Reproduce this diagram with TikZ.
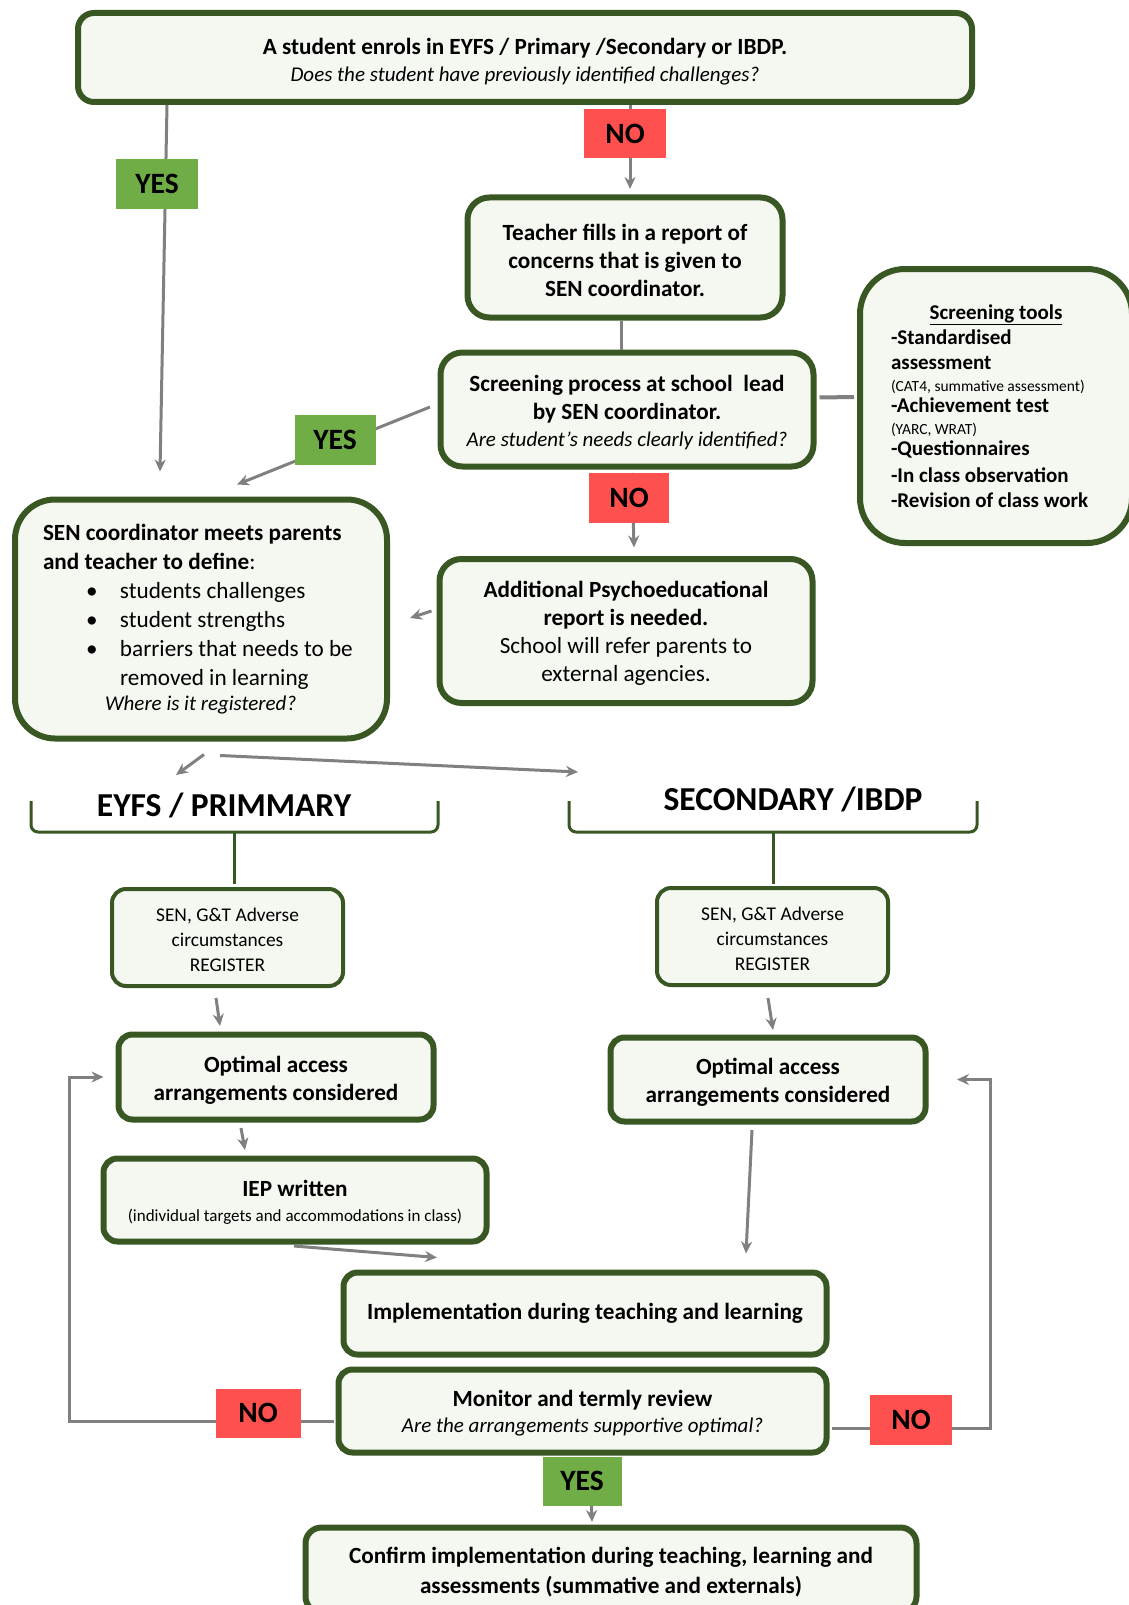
\documentclass[tikz,border=0pt]{standalone}
\usepackage{fontspec}
\setmainfont{Carlito}
\usetikzlibrary{calc,arrows.meta}
\definecolor{boxline}{RGB}{56,87,35}
\definecolor{boxfill}{RGB}{244,248,241}
\definecolor{yesgreen}{RGB}{112,173,71}
\definecolor{nored}{RGB}{255,80,80}
\definecolor{linkgray}{RGB}{128,128,128}
\newcommand{\qitem}[1]{{\fontsize{21}{28}\selectfont\itshape #1}}
\newcommand{\lowstrut}[1]{\rule{0pt}{#1}}
\begin{document}
\begin{tikzpicture}[x=1pt,y=-1pt,
  stepbox/.style={draw=boxline,fill=boxfill,line width=6,rounded corners=16,align=center,inner sep=0,font=\fontsize{23.2}{28}\selectfont},
  regbox/.style={stepbox,line width=4,rounded corners=14,font=\fontsize{19.4}{25}\selectfont},
  yeslab/.style={fill=yesgreen,minimum width=81,minimum height=50,inner sep=0,font=\fontsize{29.5}{30}\selectfont\bfseries},
  nolab/.style={yeslab,fill=nored},
  conn/.style={draw=linkgray,line width=3,-{Stealth[length=12,width=11]}},
  link/.style={draw=linkgray,line width=3},
  brace/.style={draw=boxline,line width=3,rounded corners=7}]
  \useasboundingbox (0,0) rectangle (1128,1605);

  % boxes
  \node[stepbox,minimum width=894,minimum height=89] (top) at (525,57.5)
    {\lowstrut{25.5pt}\textbf{A student enrols in EYFS / Primary /Secondary or IBDP.}\\[-1pt]
     \qitem{Does the student have previously identified challenges?}};
  \node[stepbox,rounded corners=22,minimum width=315,minimum height=120] (teacher) at (625,257.5)
    {\lowstrut{22pt}\textbf{Teacher fills in a report of}\\ \textbf{concerns that is given to}\\ \textbf{SEN coordinator.}};
  \node[stepbox,rounded corners=22,minimum width=373,minimum height=114] (screen) at (627,409.5)
    {\lowstrut{22.5pt}\textbf{Screening process at school\ \ lead}\\ \textbf{by SEN coordinator.}\\[-1pt]
     \qitem{Are student’s needs clearly identified?}};
  \node[stepbox,rounded corners=45,minimum width=272,minimum height=274,text width=210,align=left,
        font=\fontsize{21}{25}\selectfont\bfseries] (tools) at (996,406)
    {\spaceskip=0pt\relax
     {\centering\underline{Screening tools}\par}
     -Standardised\\
     assessment\\[-3pt]
     {\fontsize{15.5}{16}\selectfont\mdseries (CAT4, summative assessment)}\\[-4pt]
     -Achievement test\\[-3pt]
     {\fontsize{15.5}{16}\selectfont\mdseries (YARC, WRAT)}\\[-4pt]
     -Questionnaires\\[2pt]
     -In class observation\\
     -Revision of class work};
  \node[stepbox,rounded corners=40,minimum width=372,minimum height=239,text width=316,align=left,
        font=\fontsize{23.2}{29}\selectfont] (sen) at (201,619)
    {\spaceskip=0pt\relax
     \textbf{SEN coordinator meets parents}\\
     \textbf{and teacher to define}:\\
     \hspace*{43pt}\makebox[34pt][l]{\textbullet}students challenges\\
     \hspace*{43pt}\makebox[34pt][l]{\textbullet}student strengths\\
     \hspace*{43pt}\makebox[34pt][l]{\textbullet}barriers that needs to be\\
     \hspace*{77pt}removed in learning\\[-4pt]
     \hspace*{62pt}\qitem{Where is it registered?}};
  \node[stepbox,rounded corners=22,minimum width=373,minimum height=144] (addl) at (626,631)
    {\lowstrut{20pt}\textbf{Additional Psychoeducational}\\ \textbf{report is needed.}\\
     School will refer parents to\\ external agencies.};

  \node[font=\fontsize{33.5}{34}\selectfont\bfseries] (eyfs) at (224,805) {EYFS / PRIMMARY};
  \node[font=\fontsize{33.5}{34}\selectfont\bfseries] (sec) at (793,799) {SECONDARY /IBDP};
  \draw[brace] (31,801) -- (31,832) -- (438,832) -- (438,801);
  \draw[brace] (234,832) -- (234,884);
  \draw[brace] (569,801) -- (569,832) -- (977,832) -- (977,801);
  \draw[brace] (773,832) -- (773,884);

  \node[regbox,minimum width=231,minimum height=97] (regL) at (227.5,937.5)
    {\lowstrut{19pt}SEN, G\&T Adverse\\ circumstances\\ REGISTER};
  \node[regbox,minimum width=231,minimum height=97] (regR) at (772.5,936.5)
    {\lowstrut{19pt}SEN, G\&T Adverse\\ circumstances\\ REGISTER};
  \node[stepbox,rounded corners=14,minimum width=315,minimum height=85] (optL) at (276,1077)
    {\lowstrut{22pt}\textbf{Optimal access}\\ \textbf{arrangements considered}};
  \node[stepbox,rounded corners=14,minimum width=315,minimum height=84] (optR) at (768,1079.5)
    {\lowstrut{22pt}\textbf{Optimal access}\\ \textbf{arrangements considered}};
  \node[stepbox,rounded corners=14,minimum width=383,minimum height=83] (iep) at (295,1200)
    {\lowstrut{21pt}\textbf{IEP written}\\[-3pt]
     {\fontsize{17}{18}\selectfont (individual targets and accommodations in class)}};
  \node[stepbox,rounded corners=14,minimum width=483,minimum height=82] (impl) at (585,1313.5)
    {\textbf{Implementation during teaching and learning}};
  \node[stepbox,rounded corners=14,minimum width=488,minimum height=83] (mon) at (582.5,1411)
    {\lowstrut{21pt}\textbf{Monitor and termly review}\\[-2pt]
     \qitem{Are the arrangements supportive optimal?}};
  \node[stepbox,rounded corners=16,minimum width=611,minimum height=85] (conf) at (611,1570)
    {\lowstrut{21pt}\textbf{Confirm implementation during teaching, learning and}\\[2pt]
     \textbf{assessments (summative and externals)}};

  % connectors
  \draw[conn] ($(top.south)+(-358,0)$) -- ($(sen.north)+(-41,-25)$);
  \draw[conn] ($(top.south)+(105,0)$) -- ($(teacher.north)+(5,-5.5)$);
  \draw[link] ($(teacher.south)+(-4,0)$) -- ($(screen.north)+(-6,0)$);
  \draw[conn] ($(screen.west)+(-7.5,-2.5)$) -- ($(sen.north)+(36,-12)$);
  \draw[conn] ($(screen.south)+(5,3.5)$) -- ($(addl.north)+(8,-8.5)$);
  \draw[link,line width=4] ($(screen.east)+(3,-12)$) -- ($(tools.west)+(-3,-9)$);
  \draw[conn] ($(addl.west)+(-5,-20)$) -- ($(sen.east)+(20,-1)$);
  \draw[conn] ($(sen.south)+(3,13)$) -- ($(eyfs.center)+(-48,-30)$);
  \draw[conn] ($(sen.south)+(19,14)$) -- ($(sec.center)+(-215,-27)$);
  \draw[conn] ($(regL.south)+(-11.5,10)$) -- ($(optL.north)+(-56,-5.5)$);
  \draw[conn] ($(regR.south)+(-4.5,11)$) -- ($(optR.north)+(5,-4.5)$);
  \draw[conn] ($(optL.south)+(-35,5.5)$) -- ($(iep.north)+(-50,-5.5)$);
  \draw[conn] ($(iep.south)+(-1,1.5)$) -- ($(impl.north)+(-148,-12)$);
  \draw[conn] ($(optR.south)+(-16,5.5)$) -- ($(impl.north)+(161,-16)$);
  \draw[conn] ($(mon.west)+(-2,10)$) -| ($(optL.west)+(-46,0)$) -- ($(optL.west)+(-12,0)$);
  \draw[conn] ($(mon.east)+(2.5,17)$) -| ($(optR.east)+(61.5,0)$) -- ($(optR.east)+(28.5,0)$);
  \draw[conn] ($(mon.south)+(7.5,2.5)$) -- ($(conf.north)+(-19,-2.5)$);

  % yes / no labels
  \node[yeslab,minimum width=82] (yesA) at (157,184) {YES};
  \node[nolab,minimum width=82,minimum height=49] (noA) at (625,134) {NO};
  \node[yeslab] (yesB) at (335,440) {YES};
  \node[nolab,minimum width=80] (noB) at (629,498) {NO};
  \node[nolab,minimum width=85,minimum height=49] (noC) at (258,1413) {NO};
  \node[nolab,minimum width=82] (noD) at (911,1420) {NO};
  \node[yeslab,minimum width=79,minimum height=49] (yesC) at (582,1481) {YES};
\end{tikzpicture}
\end{document}
